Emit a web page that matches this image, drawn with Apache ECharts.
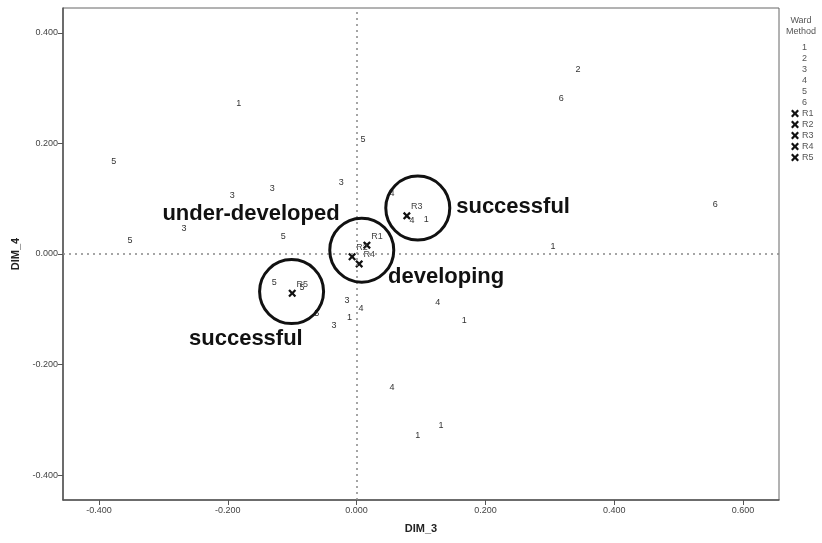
<!DOCTYPE html>
<html>
<head>
<meta charset="utf-8">
<script src="https://cdn.jsdelivr.net/npm/echarts@6/dist/echarts.min.js"></script>
<style>
html, body { margin: 0; padding: 0; background: #fff; }
#chart { width: 822px; height: 543px; }
</style>
</head>
<body>
<div id="chart"></div>
<script>
// cases per Ward cluster [DIM_3, DIM_4]
var cluster1 = [[-0.183, 0.273], [0.305, 0.014], [0.108, 0.062], [-0.011, -0.114], [0.167, -0.121], [0.095, -0.328], [0.131, -0.311]];
var cluster2 = [[0.344, 0.333]];
var cluster3 = [[-0.193, 0.105], [-0.131, 0.118], [-0.024, 0.129], [-0.268, 0.047], [-0.015, -0.085], [-0.035, -0.130]];
var cluster4 = [[0.086, 0.060], [0.055, 0.110], [0.007, -0.098], [0.126, -0.087], [0.055, -0.241]];
var cluster5 = [[-0.377, 0.167], [-0.352, 0.025], [-0.114, 0.031], [0.010, 0.208], [-0.128, -0.052], [-0.085, -0.060], [-0.062, -0.107]];
var cluster6 = [[0.318, 0.281], [0.557, 0.089]];

// region centroids
var centroidNames = ['R1', 'R2', 'R3', 'R4', 'R5'];
var centroids = [[0.016, 0.016], [-0.007, -0.005], [0.078, 0.069], [0.004, -0.018], [-0.100, -0.071]];

// hand-drawn circles and notes
var circleCenters = [[0.095, 0.083], [0.008, 0.007], [-0.101, -0.068]];
var noteTexts = ['under-developed', 'successful', 'developing', 'successful'];
var notePos = [[-0.164, 0.072], [0.243, 0.085], [0.139, -0.042], [-0.172, -0.154]];

var tickValues = [-0.4, -0.2, 0, 0.2, 0.4];
var xTickValues = [-0.4, -0.2, 0, 0.2, 0.4, 0.6];

var crossPath = 'path://M0,2L2,0L5,3L8,0L10,2L7,5L10,8L8,10L5,7L2,10L0,8L3,5Z';
var font = 'Liberation Sans, Arial, sans-serif';
var hidden = 'rgba(0,0,0,0)';

var chart = echarts.init(document.getElementById('chart'));

var clusters = [cluster1, cluster2, cluster3, cluster4, cluster5, cluster6];
var series = [];
clusters.forEach(function (pts, i) {
    var name = String(i + 1);
    series.push({
        name: name,
        type: 'scatter',
        data: pts,
        symbol: 'circle',
        symbolSize: 1,
        itemStyle: { color: hidden, opacity: 1 },
        label: {
            show: true,
            position: 'inside',
            formatter: name,
            color: '#333',
            fontSize: 9,
            fontFamily: font
        },
        emphasis: { disabled: true },
        z: 3
    });
});

centroids.forEach(function (pt, i) {
    series.push({
        name: centroidNames[i],
        type: 'scatter',
        data: [pt],
        symbol: crossPath,
        symbolSize: 8,
        itemStyle: { color: '#111', opacity: 1 },
        label: {
            show: true,
            position: 'inside',
            offset: [10, -9],
            formatter: centroidNames[i],
            color: '#444',
            fontSize: 9,
            fontFamily: font
        },
        z: 4
    });
});

// zero reference lines
series.push({
    name: 'ref',
    type: 'scatter',
    data: [],
    markLine: {
        silent: true,
        symbol: 'none',
        label: { show: false },
        lineStyle: { color: '#888', type: [2, 4], width: 1.5 },
        data: [{ xAxis: 0 }, { yAxis: 0 }]
    }
});

series.push({
    name: 'circles',
    type: 'scatter',
    data: circleCenters,
    symbol: 'circle',
    symbolSize: 64,
    itemStyle: { color: hidden, borderColor: '#111', borderWidth: 3, opacity: 1 },
    z: 5
});

series.push({
    name: 'notes',
    type: 'scatter',
    data: notePos.map(function (p, i) { return { value: p, name: noteTexts[i] }; }),
    symbol: 'circle',
    symbolSize: 1,
    itemStyle: { color: hidden, opacity: 1 },
    label: {
        show: true,
        position: 'inside',
        formatter: '{b}',
        color: '#111',
        fontSize: 22,
        fontWeight: 'bold',
        fontFamily: font
    },
    z: 6
});

var legendData = ['1', '2', '3', '4', '5', '6'].map(function (n) {
    return { name: n, icon: 'none' };
}).concat(centroidNames.map(function (n) {
    return { name: n, icon: crossPath, itemStyle: { color: '#111' } };
}));

option = {
    backgroundColor: '#fff',
    animation: false,
    grid: {
        left: 63, right: 43, top: 8, bottom: 43,
        show: true, borderColor: '#666', borderWidth: 1
    },
    title: {
        text: 'Ward\nMethod',
        left: 796, top: 10,
        textAlign: 'center',
        textStyle: { fontSize: 9, fontWeight: 'normal', color: '#555', lineHeight: 11, fontFamily: font }
    },
    legend: {
        data: legendData,
        orient: 'vertical',
        left: 786, top: 38,
        itemWidth: 8, itemHeight: 8, itemGap: 2,
        textStyle: { fontSize: 9, color: '#555', fontFamily: font, padding: [0, 0, 0, -2] },
        selectedMode: false
    },
    xAxis: {
        type: 'value',
        min: -0.456, max: 0.656,
        name: 'DIM_3',
        nameLocation: 'middle',
        nameGap: 23,
        nameTextStyle: { fontSize: 11, fontWeight: 'bold', color: '#222', fontFamily: font },
        axisLine: { show: true, onZero: false, lineStyle: { color: '#555', width: 1.5 } },
        axisTick: { show: true, length: 5, customValues: xTickValues, lineStyle: { color: '#555' } },
        axisLabel: {
            customValues: xTickValues,
            formatter: function (v) { return v.toFixed(3); },
            fontSize: 9, color: '#444', fontFamily: font, margin: 6
        },
        splitLine: { show: false }
    },
    yAxis: {
        type: 'value',
        min: -0.445, max: 0.445,
        name: 'DIM_4',
        nameLocation: 'middle',
        nameGap: 26,
        nameTextStyle: { fontSize: 11, fontWeight: 'bold', color: '#222', fontFamily: font },
        axisLine: { show: true, onZero: false, lineStyle: { color: '#555', width: 1.5 } },
        axisTick: { show: true, length: 5, customValues: tickValues, lineStyle: { color: '#555' } },
        axisLabel: {
            customValues: tickValues,
            formatter: function (v) { return v.toFixed(3); },
            fontSize: 9, color: '#444', fontFamily: font, margin: 5
        },
        splitLine: { show: false }
    },
    series: series
};

chart.setOption(option);
</script>
</body>
</html>
